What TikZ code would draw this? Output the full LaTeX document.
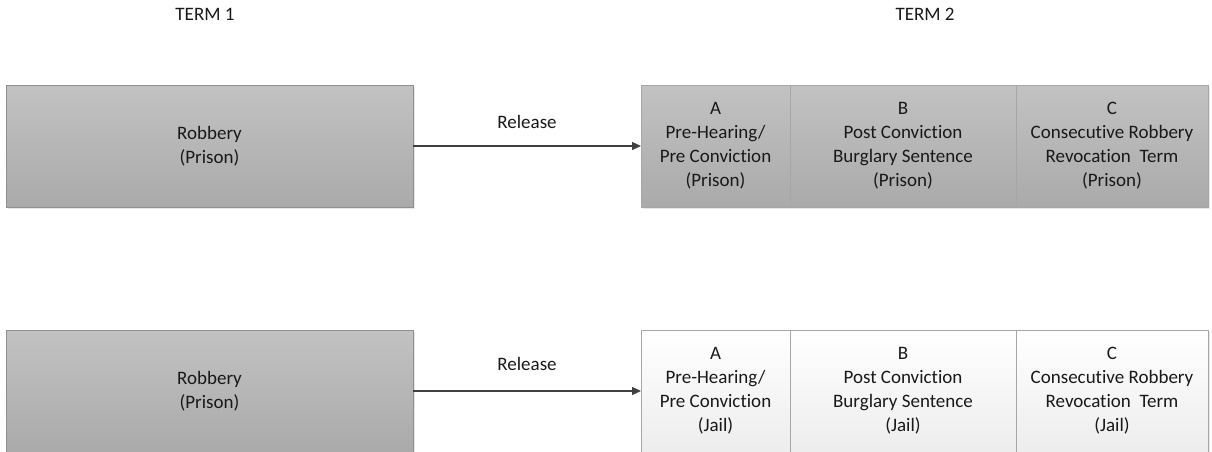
\documentclass[tikz,border=0pt]{standalone}
\usepackage{fontspec}
\setmainfont{Carlito}[Ligatures=NoCommon]
\usetikzlibrary{positioning,shadows,arrows.meta}

\definecolor{boxedge}{HTML}{8E8E8E}
\definecolor{celledge}{HTML}{A6A6A6}
\definecolor{graytop}{HTML}{C2C2C2}
\definecolor{graybot}{HTML}{AAAAAA}
\definecolor{lighttop}{HTML}{FFFFFF}
\definecolor{lightbot}{HTML}{EDEDED}
\definecolor{flowgray}{HTML}{404040}

\begin{document}
\begin{tikzpicture}[
         x=1pt, y=1pt,
         every node/.style = {font=\fontsize{19}{24}\selectfont, text=black!90},
         termbox/.style = {draw=boxedge, line width=0.8pt, inner sep=0pt,
         outer sep=0pt, minimum height=122pt, align=center,
         drop shadow={opacity=0.18, shadow xshift=1.5pt, shadow yshift=-1.5pt}},
         prison/.style = {top color=graytop, bottom color=graybot},
         jail/.style = {top color=lighttop, bottom color=lightbot},
         cell/.style = {termbox, draw=celledge},
         flow/.style = {draw=flowgray, line width=1.2pt,
         -{Triangle[length=9pt,width=8pt]}}
]
      \useasboundingbox (0,0) rectangle (1212,451);

      % column heads
      \node (t1) at (205,437) {TERM 1};
      \node (t2) at (925,437) {TERM 2};

      % first row (prison)
      \node[termbox, prison, minimum width=407pt] (rob1) at (209.5,305)
         {Robbery\\(Prison)};
      \node[cell, prison, minimum width=149pt, right=228pt of rob1] (pa1)
         {A\\Pre-Hearing/\\Pre Conviction\\(Prison)};
      \node[cell, prison, minimum width=226pt, right=0pt of pa1] (pb1)
         {B\\Post Conviction\\Burglary Sentence\\(Prison)};
      \node[cell, prison, minimum width=192pt, right=0pt of pb1] (pc1)
         {C\\Consecutive Robbery\\Revocation~~Term\\(Prison)};

      % second row (jail)
      \node[termbox, prison, minimum width=407pt] (rob2) at (209.5,60)
         {Robbery\\(Prison)};
      \node[cell, jail, minimum width=149pt, right=228pt of rob2] (pa2)
         {A\\Pre-Hearing/\\Pre Conviction\\(Jail)};
      \node[cell, jail, minimum width=226pt, right=0pt of pa2] (pb2)
         {B\\Post Conviction\\Burglary Sentence\\(Jail)};
      \node[cell, jail, minimum width=192pt, right=0pt of pb2] (pc2)
         {C\\Consecutive Robbery\\Revocation~~Term\\(Jail)};

      % release arrows
      \draw[flow] (rob1) -- (pa1) node[midway, above=13pt] (r1) {Release};
      \draw[flow] (rob2) -- (pa2) node[midway, above=16pt] (r2) {Release};
   \end{tikzpicture}
\end{document}
